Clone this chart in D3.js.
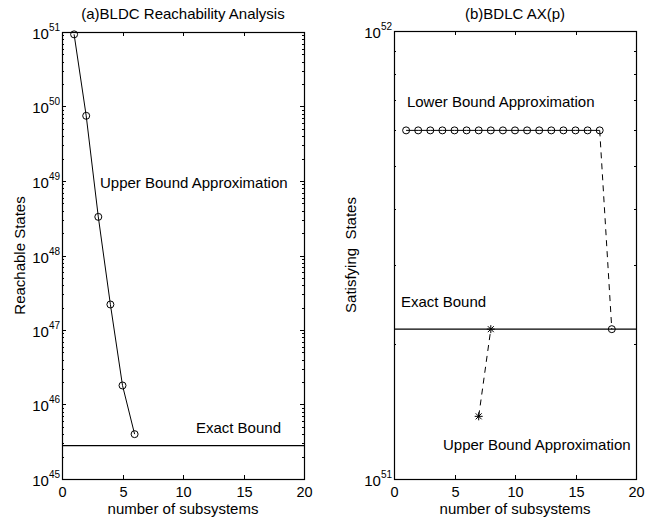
<!DOCTYPE html>
<html><head><meta charset="utf-8">
<script src="https://cdn.jsdelivr.net/npm/d3@7"></script>
<style>
body{margin:0;background:#fff;}
svg{font-family:"Liberation Sans",Arial,sans-serif;}
text{fill:#000;}
</style></head>
<body><svg id="c" width="653" height="518"></svg>
<script>
// ---- data ----
const xTicks = [0, 5, 10, 15, 20];
// panel (a)
const aTitle = "(a)BLDC Reachability Analysis";
const aUpperX = [1, 2, 3, 4, 5, 6];
const aUpperY = [9.3e50, 7.5e49, 3.3e48, 2.2e47, 1.8e46, 4.0e45];
const aExact = 2.8e45;
const aYExps = [45, 46, 47, 48, 49, 50, 51];
// panel (b)
const bTitle = "(b)BDLC AX(p)";
const bLowerX = [1, 2, 3, 4, 5, 6, 7, 8, 9, 10, 11, 12, 13, 14, 15, 16, 17];
const bLowerY = [6e51, 6e51, 6e51, 6e51, 6e51, 6e51, 6e51, 6e51, 6e51, 6e51, 6e51, 6e51, 6e51, 6e51, 6e51, 6e51, 6e51];
const bDropX = [17, 18];
const bDropY = [6e51, 2.16e51];
const bUpperX = [7, 8];
const bUpperY = [1.38e51, 2.16e51];
const bExact = 2.16e51;
const bYExps = [51, 52];

const svg = d3.select("#c");
const FS = 15;

function panel(o) {
  const g = svg.append("g");
  const x = d3.scaleLinear().domain([0, 20]).range([o.x0, o.x1]);
  const y = d3.scaleLog().domain([Math.pow(10, o.exps[0]), Math.pow(10, o.exps[o.exps.length - 1])]).range([o.y1, o.y0]);
  const minors = [];
  for (let e = o.exps[0]; e < o.exps[o.exps.length - 1]; e++)
    for (let m = 2; m <= 9; m++) minors.push(m * Math.pow(10, e));
  const tl = g.append("g").attr("stroke", "#000").attr("stroke-width", 1);
  minors.forEach(v => {
    const yy = Math.round(y(v)) + 0.5;
    tl.append("line").attr("x1", o.x0).attr("x2", o.x0 + 2).attr("y1", yy).attr("y2", yy);
    tl.append("line").attr("x1", o.x1).attr("x2", o.x1 - 2).attr("y1", yy).attr("y2", yy);
  });
  o.exps.forEach(e => {
    const yy = Math.round(y(Math.pow(10, e))) + 0.5;
    tl.append("line").attr("x1", o.x0).attr("x2", o.x0 + 4).attr("y1", yy).attr("y2", yy);
    tl.append("line").attr("x1", o.x1).attr("x2", o.x1 - 4).attr("y1", yy).attr("y2", yy);
    const t = g.append("text").attr("x", o.x0 - 2).attr("y", yy + 6).attr("text-anchor", "end").attr("font-size", FS);
    t.append("tspan").text("10");
    t.append("tspan").attr("font-size", 10).attr("dy", -8).text(e);
  });
  xTicks.forEach(v => {
    const xx = Math.round(x(v)) + 0.5;
    tl.append("line").attr("x1", xx).attr("x2", xx).attr("y1", o.y1).attr("y2", o.y1 - 4);
    tl.append("line").attr("x1", xx).attr("x2", xx).attr("y1", o.y0).attr("y2", o.y0 + 4);
    g.append("text").attr("x", xx).attr("y", o.y1 + 18).attr("text-anchor", "middle").attr("font-size", 14.5).text(v);
  });
  g.append("rect").attr("x", o.x0 + 0.5).attr("y", o.y0 + 0.5).attr("width", o.x1 - o.x0).attr("height", o.y1 - o.y0)
    .attr("fill", "none").attr("stroke", "#000").attr("stroke-width", 1.2);
  g.append("text").attr("x", (o.x0 + o.x1) / 2).attr("y", 19).attr("text-anchor", "middle").attr("font-size", FS).text(o.title);
  g.append("text").attr("x", (o.x0 + o.x1) / 2).attr("y", 514).attr("text-anchor", "middle").attr("font-size", FS).text("number of subsystems");
  g.append("text").attr("transform", `translate(${o.ylx},${(o.y0 + o.y1) / 2}) rotate(-90)`).attr("text-anchor", "middle")
    .attr("font-size", FS).attr("xml:space", "preserve").style("white-space", "pre").text(o.ylabel);
  return {g, x, y};
}

function series(p, xs, ys, dash, marker) {
  const pts = xs.map((v, i) => [p.x(v), p.y(ys[i])]);
  p.g.append("path").attr("d", d3.line()(pts)).attr("fill", "none").attr("stroke", "#000").attr("stroke-width", 1)
    .attr("stroke-dasharray", dash ? "6,5" : null);
  if (marker === "o") {
    pts.forEach(q => p.g.append("circle").attr("cx", q[0]).attr("cy", q[1]).attr("r", 3.5).attr("fill", "none").attr("stroke", "#000").attr("stroke-width", 1));
  } else if (marker === "*") {
    pts.forEach(q => {
      const s = 4;
      const d = `M${q[0] - s},${q[1]}L${q[0] + s},${q[1]}M${q[0]},${q[1] - s}L${q[0]},${q[1] + s}` +
        `M${q[0] - s * 0.75},${q[1] - s * 0.75}L${q[0] + s * 0.75},${q[1] + s * 0.75}M${q[0] - s * 0.75},${q[1] + s * 0.75}L${q[0] + s * 0.75},${q[1] - s * 0.75}`;
      p.g.append("path").attr("d", d).attr("stroke", "#000").attr("stroke-width", 1).attr("fill", "none");
    });
  }
}

function hline(p, v) {
  const yy = p.y(v);
  p.g.append("line").attr("x1", p.x(0)).attr("x2", p.x(20)).attr("y1", yy).attr("y2", yy).attr("stroke", "#000").attr("stroke-width", 1.2);
}

function label(p, xv, yv, txt) {
  p.g.append("text").attr("x", p.x(xv)).attr("y", p.y(yv)).attr("font-size", FS).text(txt);
}

// panel a
const pa = panel({x0: 62, x1: 304, y0: 32, y1: 479, exps: aYExps, title: aTitle, ylabel: "Reachable States", ylx: 25});
hline(pa, aExact);
series(pa, aUpperX, aUpperY, false, "o");
label(pa, 3.14, 8.05e48, "Upper Bound Approximation");
label(pa, 11.07, 4.14e45, "Exact Bound");

// panel b
const pb = panel({x0: 394, x1: 636, y0: 31, y1: 479, exps: bYExps, title: bTitle, ylabel: "Satisfying  States", ylx: 356});
hline(pb, bExact);
series(pb, bLowerX, bLowerY, false, "o");
series(pb, bDropX, bDropY, true, null);
pb.g.append("circle").attr("cx", pb.x(18)).attr("cy", pb.y(bExact)).attr("r", 3.5).attr("fill", "none").attr("stroke", "#000");
series(pb, bUpperX, bUpperY, true, "*");
label(pb, 1.07, 6.77e51, "Lower Bound Approximation");
label(pb, 0.58, 2.42e51, "Exact Bound");
label(pb, 4.05, 1.16e51, "Upper Bound Approximation");
</script></body></html>
